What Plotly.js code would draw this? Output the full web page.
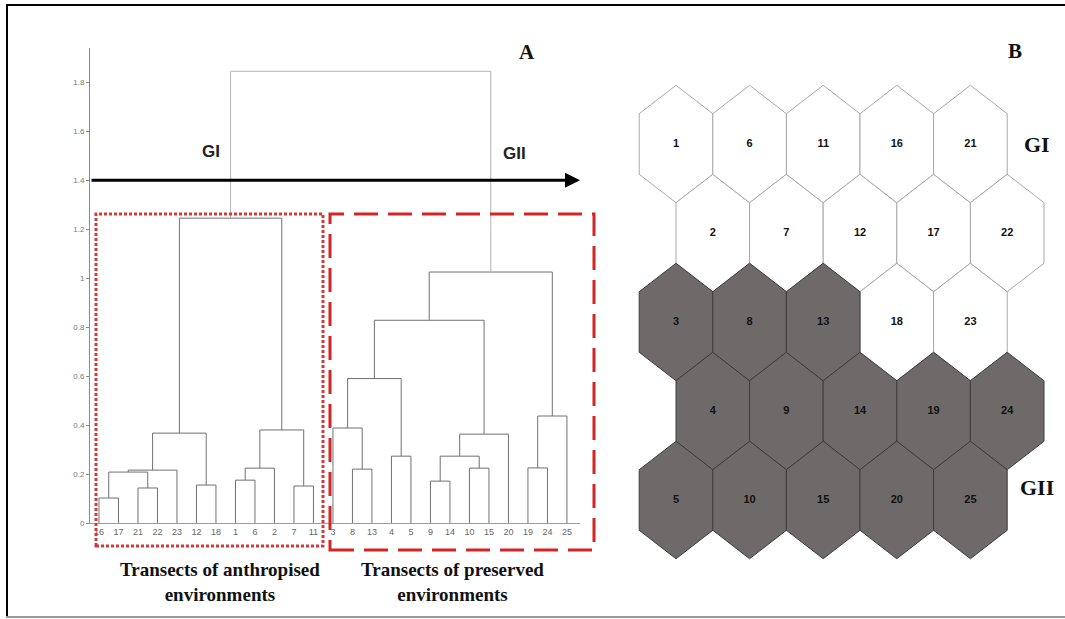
<!DOCTYPE html>
<html>
<head>
<meta charset="utf-8">
<script src="https://cdn.plot.ly/plotly-3.0.1.min.js"></script>
<style>
html,body{margin:0;padding:0;background:#fff;}
#chart{width:1065px;height:619px;}
</style>
</head>
<body>
<div id="chart"></div>
<script>
// ---------- DATA ----------
// Panel A: dendrogram leaf order (transect numbers)
const leafLabels = ['16','17','21','22','23','12','18','1','6','2','7','11','3','8','13','4','5','9','14','10','15','20','19','24','25'];
// merges: new node id, left child, right child, fusion height
const mergeIds     = ['m1','m2','m3','m4','m5','m6','m7','m8','m9','m10','m11','m12','m13','m14','m15','m16','m17','m18','m19','m20','m21','m22','m23','m24'];
const mergeLeft    = ['16','21','m1','m3','12','m4','1','m7','7','m8','m6','8','3','4','m13','9','10','m16','m18','m15','19','m21','m20','m11'];
const mergeRight   = ['17','22','m2','23','18','m5','6','2','11','m9','m10','13','m12','5','m14','14','15','m17','20','m19','24','25','m22','m23'];
const mergeHeights = [0.102,0.143,0.208,0.216,0.155,0.367,0.175,0.224,0.151,0.380,1.245,0.220,0.388,0.273,0.590,0.171,0.224,0.273,0.363,0.828,0.225,0.437,1.025,1.845];
const yTickVals = [0,0.2,0.4,0.6,0.8,1,1.2,1.4,1.6,1.8];
const cutHeight = 1.4;

// Panel B: SOM map 5x5, cells numbered column-wise; group of each cell
const cellNumbers = [1,2,3,4,5,6,7,8,9,10,11,12,13,14,15,16,17,18,19,20,21,22,23,24,25];
const cellGroups  = ['GI','GI','GII','GII','GII','GI','GI','GII','GII','GII','GI','GI','GII','GII','GII','GI','GI','GI','GII','GII','GI','GI','GI','GII','GII'];
const mapRows = 5;

// ---------- helpers (pixel -> paper) ----------
const W = 1065, H = 619;
const px = x => x / W;
const py = y => 1 - y / H;

// ---------- dendrogram ----------
const nodePos = {};
leafLabels.forEach((l, i) => { nodePos[l] = {x: i, y: 0}; });
const traces = [];
const lowX = [], lowY = [], topX = [], topY = [];
mergeIds.forEach((id, k) => {
  const a = nodePos[mergeLeft[k]], b = nodePos[mergeRight[k]], h = mergeHeights[k];
  const isTop = (k === mergeIds.length - 1);
  const X = isTop ? topX : lowX, Y = isTop ? topY : lowY;
  X.push(a.x, a.x, b.x, b.x, null);
  Y.push(a.y, h, h, b.y, null);
  nodePos[id] = {x: (a.x + b.x) / 2, y: h};
});
traces.push({type:'scatter', mode:'lines', x: lowX, y: lowY, xaxis:'x', yaxis:'y',
  line:{color:'#707070', width:1}, hoverinfo:'skip', showlegend:false});
traces.push({type:'scatter', mode:'lines', x: topX, y: topY, xaxis:'x', yaxis:'y',
  line:{color:'#b2b2b2', width:1}, hoverinfo:'skip', showlegend:false});

// ---------- hex map ----------
const hx = 0.5, hTop = 0.66, hSh = 0.34;
const textX = [], textY = [], textT = [];
['GI','GII'].forEach(g => {
  cellNumbers.forEach((n, i) => {
    if (cellGroups[i] !== g) return;
    const col = Math.floor((n - 1) / mapRows), row = (n - 1) % mapRows;
    const cx = col + (row % 2 ? 0.5 : 0), cy = row;
    const vx = [cx, cx + hx, cx + hx, cx, cx - hx, cx - hx, cx];
    const vy = [cy - hTop, cy - hSh, cy + hSh, cy + hTop, cy + hSh, cy - hSh, cy - hTop];
    const dark = g === 'GII';
    traces.push({type:'scatter', mode:'lines', x: vx, y: vy, xaxis:'x2', yaxis:'y2',
      fill:'toself', fillcolor: dark ? '#6e6a6a' : '#ffffff',
      line:{color: dark ? '#3e3c3c' : '#a8a8a8', width:1},
      hoverinfo:'skip', showlegend:false});
    textX.push(cx); textY.push(cy); textT.push(String(n));
  });
});
traces.push({type:'scatter', mode:'text', x:textX, y:textY, text:textT, xaxis:'x2', yaxis:'y2',
  textfont:{family:'Liberation Sans, Arial, sans-serif', size:11, color:'#111', weight:'bold'},
  hoverinfo:'skip', showlegend:false});

// ---------- layout ----------
const serifBold = {family:'Liberation Serif, Times New Roman, serif', color:'#111', weight:'bold'};
const ann = (x, y, text, font) => ({xref:'paper', yref:'paper', x:px(x), y:py(y), text:text,
  showarrow:false, xanchor:'center', yanchor:'middle', font:font});
const annotations = [
  ann(527, 52, 'A', Object.assign({size:21}, serifBold)),
  ann(1015, 51, 'B', Object.assign({size:21}, serifBold)),
  ann(1037, 144, 'GI', Object.assign({size:22}, serifBold)),
  ann(1037, 487, 'GII', Object.assign({size:22}, serifBold)),
  ann(211, 152, 'GI', {family:'Liberation Sans, Arial, sans-serif', size:17, color:'#222', weight:'bold'}),
  ann(514, 153, 'GII', {family:'Liberation Sans, Arial, sans-serif', size:17, color:'#222', weight:'bold'}),
  ann(220, 582, 'Transects of anthropised<br>environments', Object.assign({size:19}, serifBold)),
  ann(452, 582, 'Transects of preserved<br>environments', Object.assign({size:19}, serifBold)),
  // cut line arrow at the cut height
  {xref:'paper', yref:'y', x:px(580), y:cutHeight, ax:-490, ay:0, axref:'pixel', ayref:'pixel', text:'',
    showarrow:true, arrowhead:2, arrowsize:1, arrowwidth:3, arrowcolor:'#000'}
];
const shapes = [
  // dotted box: anthropised
  {type:'rect', xref:'paper', yref:'paper', x0:px(96), x1:px(323), y0:py(546), y1:py(214),
    line:{color:'#d23a3a', width:3, dash:'3px,2px'}},
  // dashed box: preserved
  {type:'rect', xref:'paper', yref:'paper', x0:px(330), x1:px(594), y0:py(550), y1:py(214),
    line:{color:'#d42525', width:3, dash:'24px,10px'}},
  // frame
  {type:'line', xref:'paper', yref:'paper', x0:px(7), x1:px(7), y0:py(5), y1:py(618), line:{color:'#000', width:2}},
  {type:'line', xref:'paper', yref:'paper', x0:px(6), x1:px(1065), y0:py(5), y1:py(5), line:{color:'#000', width:2}},
  {type:'line', xref:'paper', yref:'paper', x0:px(6), x1:px(1065), y0:py(617), y1:py(617), line:{color:'#999', width:2}}
];
const layout = {
  width: W, height: H,
  margin:{l:0, r:0, t:0, b:0},
  paper_bgcolor:'#fff', plot_bgcolor:'rgba(0,0,0,0)',
  showlegend:false,
  xaxis:{domain:[px(90), px(580)], range:[-0.46, 24.67], tickmode:'array',
    tickvals: leafLabels.map((_, i) => i), ticktext: leafLabels,
    tickfont:{family:'Liberation Sans, Arial, sans-serif', size:9, color:'#666'},
    showline:true, linecolor:'#8aa6a0', linewidth:1, showgrid:false, zeroline:false,
    ticks:'', fixedrange:true},
  yaxis:{domain:[py(523), py(48)], range:[0, 1.94], tickmode:'array', tickvals:yTickVals,
    tickfont:{family:'Liberation Sans, Arial, sans-serif', size:8, color:'#777'},
    showline:true, linecolor:'#8a8a8a', linewidth:1, ticks:'outside', ticklen:3, tickcolor:'#8a8a8a',
    showgrid:false, zeroline:false, fixedrange:true},
  xaxis2:{domain:[px(600), px(1060)], range:[(600-676)/73.6, (1060-676)/73.6], anchor:'y2',
    visible:false, fixedrange:true},
  yaxis2:{domain:[py(600), py(40)], range:[(600-144)/89, (40-144)/89], anchor:'x2',
    visible:false, fixedrange:true},
  annotations: annotations,
  shapes: shapes
};
Plotly.newPlot('chart', traces, layout, {displayModeBar:false, staticPlot:true});
</script>
</body>
</html>
